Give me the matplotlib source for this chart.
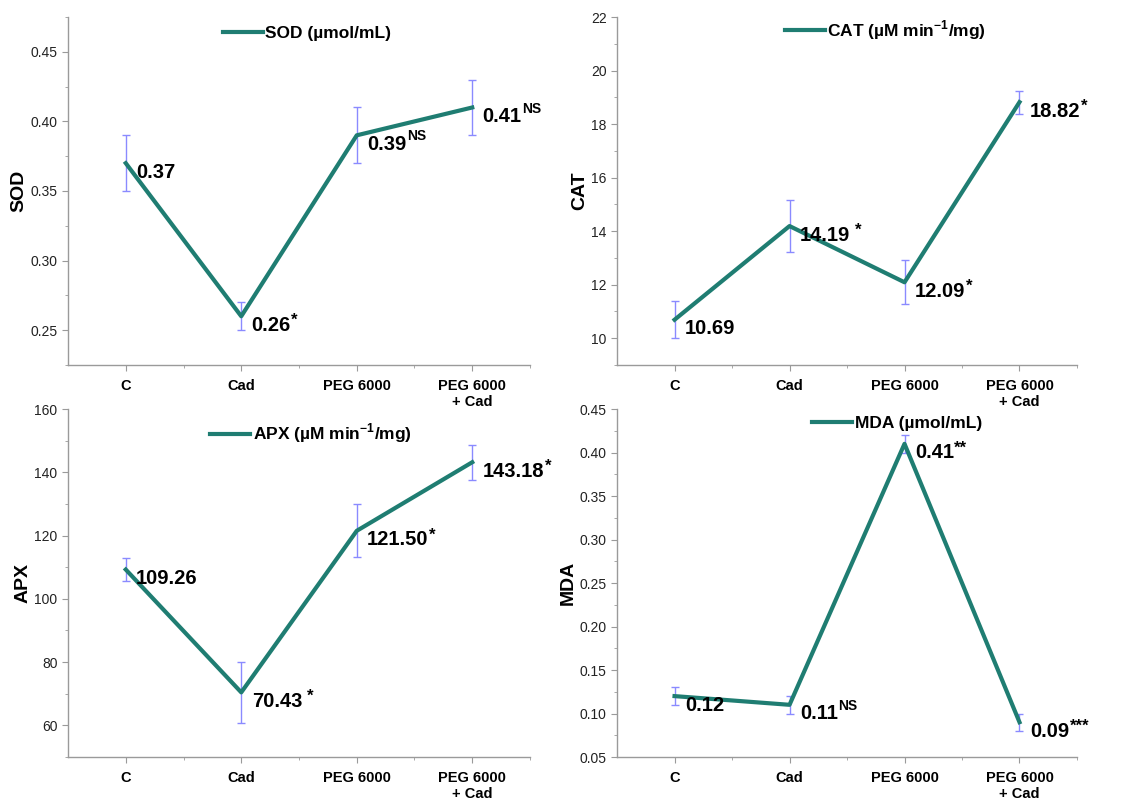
import matplotlib
matplotlib.use('Agg')
import matplotlib.pyplot as plt
from matplotlib.ticker import MultipleLocator, FuncFormatter

plt.rcParams['font.family'] = ['Liberation Sans', 'DejaVu Sans']
plt.rcParams['mathtext.fontset'] = 'custom'
plt.rcParams['mathtext.rm'] = 'Liberation Sans'
plt.rcParams['mathtext.bf'] = 'Liberation Sans:bold'

# Data
groups = ['C', 'Cad', 'PEG 6000', 'PEG 6000\n+ Cad']

sod = [0.37, 0.26, 0.39, 0.41]
sod_err = [0.02, 0.01, 0.02, 0.02]
sod_sig = ['', '*', 'NS', 'NS']

cat = [10.69, 14.19, 12.09, 18.82]
cat_err = [0.69, 0.98, 0.83, 0.43]
cat_sig = ['', ' *', '*', '*']

apx = [109.26, 70.43, 121.50, 143.18]
apx_err = [3.7, 9.6, 8.4, 5.6]
apx_sig = ['', ' *', '*', '*']

mda = [0.12, 0.11, 0.41, 0.09]
mda_err = [0.01, 0.01, 0.01, 0.01]
mda_sig = ['', 'NS', '**', '***']

line_color = '#1f7d72'
err_color = '#8a8aff'
spine_color = '#9a9a9a'

panels = [
    dict(vals=sod, err=sod_err, sig=sod_sig, ylabel='SOD',
         legend='SOD (µmol/mL)', ylim=(0.225, 0.475), major=0.05, minor=0.025,
         fmt='{:.2f}', pos=[0.0596, 0.5449, 0.4049, 0.4339], leg=(0.517, 0.952)),
    dict(vals=cat, err=cat_err, sig=cat_sig, ylabel='CAT',
         legend=r'CAT (µM min$^{\mathbf{-1}}$/mg)', ylim=(9, 22), major=2, minor=1,
         fmt='{:.0f}', pos=[0.5408, 0.5449, 0.4031, 0.4339], leg=(0.584, 0.962)),
    dict(vals=apx, err=apx_err, sig=apx_sig, ylabel='APX',
         legend=r'APX (µM min$^{\mathbf{-1}}$/mg)', ylim=(50, 160), major=20, minor=10,
         fmt='{:.0f}', pos=[0.0596, 0.0561, 0.4049, 0.4339], leg=(0.526, 0.93)),
    dict(vals=mda, err=mda_err, sig=mda_sig, ylabel='MDA',
         legend='MDA (µmol/mL)', ylim=(0.05, 0.45), major=0.05, minor=0.025,
         fmt='{:.2f}', pos=[0.5408, 0.0561, 0.4031, 0.4339], leg=(0.609, 0.958)),
]

fig = plt.figure(figsize=(11.41, 8.02), dpi=100)
x = list(range(1, len(groups) + 1))

for p in panels:
    ax = fig.add_axes(p['pos'])
    ax.errorbar(x, p['vals'], yerr=p['err'], fmt='none', ecolor=err_color,
                elinewidth=1.0, capsize=3, capthick=1.0, zorder=2)
    ax.plot(x, p['vals'], color=line_color, lw=3, label=p['legend'], zorder=3)

    for xi, v, s in zip(x, p['vals'], p['sig']):
        base = ax.annotate('{:.2f}'.format(v), (xi, v), xytext=(7.5, -6.5),
                           textcoords='offset points', ha='left', va='center',
                           fontsize=14.5, fontweight='bold', zorder=4)
        if not s:
            continue
        gap = 3.5 if s.startswith(' ') else 0.3
        if 'NS' in s:
            ax.annotate(s.strip(), xy=(1, 0.55), xycoords=base, xytext=(gap, 0),
                        textcoords='offset points', ha='left', va='bottom',
                        fontsize=10, fontweight='bold', zorder=4)
        else:
            ax.annotate(s.strip(), xy=(1, 1.14), xycoords=base, xytext=(gap, 0),
                        textcoords='offset points', ha='left', va='top',
                        fontsize=12, fontweight='bold', zorder=4)

    ax.set_xlim(0.5, 4.5)
    ax.set_ylim(*p['ylim'])
    ax.set_xticks(x)
    ax.set_xticklabels(groups, fontweight='bold', fontsize=10.5)
    ax.set_xticks([1.5, 2.5, 3.5, 4.5], minor=True)
    ax.yaxis.set_major_locator(MultipleLocator(p['major']))
    ax.yaxis.set_minor_locator(MultipleLocator(p['minor']))
    ax.yaxis.set_major_formatter(FuncFormatter(lambda v, pos, f=p['fmt']: f.format(v)))
    ax.set_ylabel(p['ylabel'], fontweight='bold', fontsize=14, labelpad=2)

    for side in ['top', 'right']:
        ax.spines[side].set_visible(False)
    for side in ['left', 'bottom']:
        ax.spines[side].set_color(spine_color)
        ax.spines[side].set_linewidth(1.0)
    ax.tick_params(axis='both', which='major', direction='out', length=4,
                   color=spine_color, labelsize=10, labelcolor='#222222')
    ax.tick_params(axis='x', which='major', labelsize=10.5, labelcolor='black', pad=6)
    ax.tick_params(axis='both', which='minor', direction='out', length=2.5,
                   color=spine_color)

    ax.legend(loc='center', bbox_to_anchor=p['leg'], frameon=False,
              handlelength=2.3, handletextpad=0.15, prop={'weight': 'bold', 'size': 12.5})

fig.savefig('out.png', dpi=100)
